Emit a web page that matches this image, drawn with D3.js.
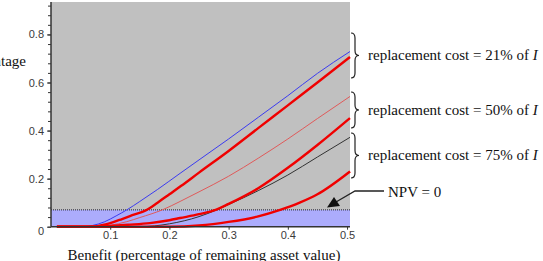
<!DOCTYPE html>
<html lang="en">
<head>
    <meta charset="UTF-8">
    <title>Option value vs benefit</title>
    <style>
        body { margin: 0; overflow: hidden; background: #fff; }
        svg { display: block; }
        .tick text { font: 11px "Liberation Sans", Arial, sans-serif; fill: #3a3a3a; }
        .axis path, .axis line { stroke: #333; }
        .note { font: 15px "Liberation Serif", "Times New Roman", serif; fill: #111; }
        .brace { fill: none; stroke: #222; stroke-width: 1.2px; }
    </style>
</head>
<body>
    <svg id="chart" width="543" height="261"></svg>
    <script src="https://d3js.org/d3.v7.min.js"></script>
    <script>
        // series: [benefit, value]
        const blueLine = [[0.01,0],[0.055,0],[0.07,0.005],[0.09,0.02],[0.11,0.045],[0.128,0.07],[0.15,0.105],[0.18,0.155],[0.218,0.222],[0.25,0.278],[0.3,0.365],[0.35,0.455],[0.4,0.545],[0.45,0.638],[0.505,0.729]];
        const redLine21 = [[0.01,0],[0.07,0],[0.09,0.008],[0.1,0.015],[0.12,0.032],[0.14,0.05],[0.16,0.068],[0.18,0.1],[0.2,0.135],[0.22,0.17],[0.25,0.225],[0.3,0.315],[0.35,0.41],[0.4,0.505],[0.45,0.6],[0.505,0.706]];
        const pinkLine = [[0.01,0],[0.08,0],[0.1,0.006],[0.128,0.021],[0.15,0.038],[0.188,0.07],[0.218,0.105],[0.25,0.145],[0.3,0.21],[0.35,0.285],[0.4,0.365],[0.45,0.45],[0.505,0.542]];
        const redLine50 = [[0.01,0],[0.08,0],[0.1,0.003],[0.13,0.008],[0.167,0.015],[0.2,0.027],[0.218,0.036],[0.25,0.052],[0.278,0.07],[0.3,0.095],[0.35,0.16],[0.4,0.245],[0.45,0.34],[0.505,0.452]];
        const blackLine = [[0.01,0],[0.15,0],[0.2,0.012],[0.25,0.042],[0.28,0.07],[0.3,0.092],[0.35,0.15],[0.4,0.215],[0.45,0.29],[0.505,0.372]];
        const redLine75 = [[0.01,0],[0.2,0],[0.25,0.005],[0.3,0.02],[0.35,0.043],[0.387,0.07],[0.42,0.1],[0.45,0.135],[0.505,0.23]];

        const npvLevel = 0.07;
        const xTicks = [0.1, 0.2, 0.3, 0.4, 0.5];
        const yTicks = [0, 0.2, 0.4, 0.6, 0.8];
        const notes = ["replacement cost = 21% of ", "replacement cost = 50% of ", "replacement cost = 75% of "];

        const svg = d3.select("#chart");
        const x = d3.scaleLinear().domain([0, 0.505]).range([51, 350]);
        const y = d3.scaleLinear().domain([0, 0.935]).range([226.7, 2]);

        // plot background
        svg.append("rect")
            .attr("x", x(0)).attr("y", y(0.935))
            .attr("width", x(0.505) - x(0)).attr("height", y(0) - y(0.935))
            .attr("fill", "#c0c0c0");

        // band below NPV = 0
        svg.append("rect")
            .attr("x", x(0)).attr("y", y(npvLevel))
            .attr("width", x(0.505) - x(0)).attr("height", y(0) - y(npvLevel))
            .attr("fill", "#acacfc");

        svg.append("line")
            .attr("x1", x(0)).attr("x2", x(0.505))
            .attr("y1", y(npvLevel)).attr("y2", y(npvLevel))
            .attr("stroke", "#222").attr("stroke-width", 1)
            .attr("stroke-dasharray", "1,1");

        const line = d3.line()
            .x(d => x(d[0]))
            .y(d => y(d[1]))
            .curve(d3.curveMonotoneX);

        const series = [
            {data: blueLine, color: "#3b3bf0", w: 1},
            {data: pinkLine, color: "#e05a5a", w: 1},
            {data: blackLine, color: "#333", w: 1},
            {data: redLine75, color: "#f00000", w: 2.4},
            {data: redLine50, color: "#f00000", w: 2.4},
            {data: redLine21, color: "#f00000", w: 2.4}
        ];

        svg.append("g").selectAll("path")
            .data(series)
            .enter().append("path")
            .attr("d", d => line(d.data))
            .attr("fill", "none")
            .attr("stroke", d => d.color)
            .attr("stroke-width", d => d.w)
            .attr("stroke-linejoin", "round");

        // axes
        const minorY = d3.range(0, 0.93, 0.04);
        svg.append("g")
            .attr("class", "axis")
            .attr("transform", `translate(${x(0)},0)`)
            .call(d3.axisLeft(y).tickValues(minorY).tickSize(3).tickFormat(""))
            .call(g => g.select(".domain").remove());

        svg.append("g")
            .attr("class", "axis")
            .attr("transform", `translate(${x(0)},0)`)
            .call(d3.axisLeft(y).tickValues(yTicks).tickSize(4).tickPadding(3)
                .tickFormat(d => d === 0 ? "0" : d3.format(".1f")(d)))
            .call(g => g.select(".domain").attr("d", `M0,${y(0)}V${y(0.935)}`).attr("stroke-width", 1.5))
            .call(g => g.selectAll(".tick text").filter(d => d === 0).attr("dy", "0.75em").attr("x", -7));

        svg.append("g")
            .attr("class", "axis")
            .attr("transform", `translate(0,${y(0)})`)
            .call(d3.axisBottom(x).tickValues(xTicks).tickSize(3).tickPadding(2).tickFormat(d3.format(".1f")))
            .call(g => g.select(".domain").attr("d", `M${x(0)},0H${x(0.505)}`).attr("stroke-width", 1.5));

        // axis titles (clipped by the picture edge as in the original)
        svg.append("text")
            .attr("class", "note")
            .attr("x", 204).attr("y", 260)
            .attr("text-anchor", "middle")
            .text("Benefit (percentage of remaining asset value)");

        svg.append("text")
            .attr("class", "note")
            .attr("x", 26).attr("y", 66)
            .attr("text-anchor", "end")
            .text("percentage");

        // braces and labels
        const braceRows = [[33, 78, 60], [92, 128, 115], [133, 178, 160]];
        function brace(x0, y0, y1, w) {
            const ym = (y0 + y1) / 2, r = 5, xm = x0 + w / 2;
            return `M${x0},${y0} Q${xm},${y0} ${xm},${y0 + r} L${xm},${ym - r} Q${xm},${ym} ${x0 + w},${ym}` +
                   ` Q${xm},${ym} ${xm},${ym + r} L${xm},${y1 - r} Q${xm},${y1} ${x0},${y1}`;
        }
        braceRows.forEach((r, i) => {
            svg.append("path").attr("class", "brace").attr("d", brace(351, r[0], r[1], 8));
            const t = svg.append("text").attr("class", "note").attr("x", 368).attr("y", r[2]);
            t.append("tspan").text(notes[i]);
            t.append("tspan").attr("font-style", "italic").text("I");
        });

        // NPV = 0 arrow
        svg.append("path")
            .attr("d", "M384,191 H355 L336,202")
            .attr("fill", "none").attr("stroke", "#222").attr("stroke-width", 1.3);
        svg.append("path")
            .attr("d", "M327,207.5 L334,197 L340,206 Z")
            .attr("fill", "#111");
        svg.append("text")
            .attr("class", "note")
            .attr("x", 388).attr("y", 197)
            .text("NPV = 0");
    </script>
</body>
</html>
